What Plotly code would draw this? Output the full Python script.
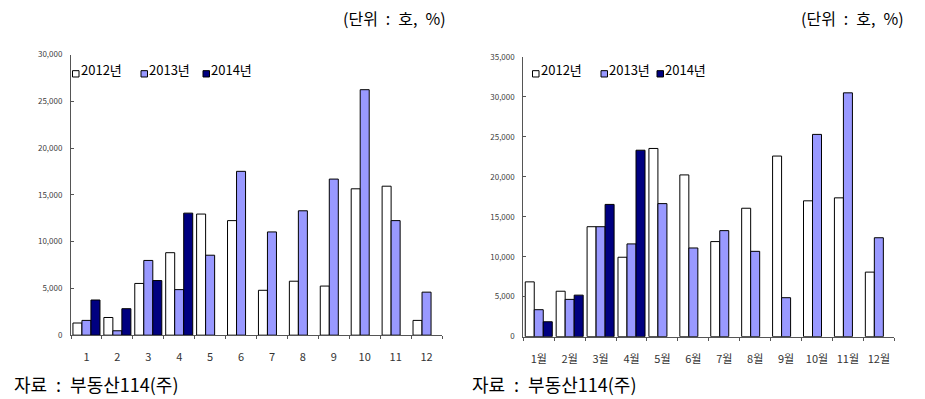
import plotly.graph_objects as go

W, H = 925, 399

# Category labels
months_num = ["1", "2", "3", "4", "5", "6", "7", "8", "9", "10", "11", "12"]
months_kor = ["1월", "2월", "3월", "4월", "5월", "6월", "7월", "8월", "9월", "10월", "11월", "12월"]

# Left panel (호)
left_2012 = [1300, 1890, 5530, 8820, 12950, 12250, 4800, 5770, 5250, 15650, 15930, 1580]
left_2013 = [1580, 470, 7990, 4870, 8550, 17520, 11040, 13300, 16690, 26250, 12250, 4600]
left_2014 = [3760, 2830, 5840, 13050, None, None, None, None, None, None, None, None]

# Right panel (호)
right_2012 = [6850, 5680, 13750, 9930, 23540, 20230, 11890, 16060, 22590, 16990, 17360, 8070]
right_2013 = [3370, 4660, 13750, 11600, 16640, 11090, 13260, 10670, 4870, 25300, 30500, 12370]
right_2014 = [1860, 5190, 16540, 23320, None, None, None, None, None, None, None, None]

series_names = ["2012년", "2013년", "2014년"]
series_colors = ["#FFFFFF", "#9999FF", "#000080"]

FONT = "Noto Sans CJK KR"
SP = "\u2002"  # en space, keeps the wide gaps in the notes

fig = go.Figure()

for name, color, vals in zip(series_names, series_colors, [left_2012, left_2013, left_2014]):
    fig.add_trace(go.Bar(
        x=months_num, y=vals, name=name, xaxis="x", yaxis="y", showlegend=False,
        marker=dict(color=color, line=dict(color="#000000", width=1)),
    ))

for name, color, vals in zip(series_names, series_colors, [right_2012, right_2013, right_2014]):
    fig.add_trace(go.Bar(
        x=months_kor, y=vals, name=name, xaxis="x2", yaxis="y2", showlegend=False,
        marker=dict(color=color, line=dict(color="#000000", width=1)),
    ))


def px_x(p):
    return p / W


def px_y(p):
    return 1 - p / H


axis_line = "#555555"
tick_font = dict(family=FONT, size=8, color="#404040")
cat_font = dict(family=FONT, size=11, color="#333333")

common_x = dict(
    type="category", showline=True, linecolor=axis_line, linewidth=1,
    ticks="outside", tickson="boundaries", ticklen=3, tickcolor=axis_line,
    showgrid=False, zeroline=False, tickfont=cat_font, ticklabelstandoff=12,
    tickangle=0,
)
common_y = dict(
    showline=True, linecolor=axis_line, linewidth=1,
    ticks="inside", ticklen=3, tickcolor=axis_line,
    showgrid=False, zeroline=False, tickformat=",d", dtick=5000,
    tickfont=tick_font, ticklabelstandoff=6,
)

fig.update_layout(
    width=W, height=H,
    margin=dict(l=0, r=0, t=0, b=0),
    paper_bgcolor="white", plot_bgcolor="white",
    barmode="group", bargap=0.126, bargroupgap=0,
    font=dict(family=FONT, color="#000000"),
    xaxis=dict(domain=[px_x(71), px_x(442)], anchor="y", **common_x),
    yaxis=dict(domain=[px_y(338.5), px_y(50)], anchor="x", range=[0, 30000], **common_y),
    xaxis2=dict(domain=[px_x(523.3), px_x(894.3)], anchor="y2", **common_x),
    yaxis2=dict(domain=[px_y(340), px_y(52.3)], anchor="x2", range=[0, 35000], **common_y),
)

shapes = []
annotations = []

# Legend keys and labels for each panel
legend_keys = [
    [72.5, 141.0, 203.0],
    [532.5, 601.0, 657.0],
]
for keys in legend_keys:
    for x0, name, color in zip(keys, series_names, series_colors):
        shapes.append(dict(
            type="rect", xref="paper", yref="paper",
            x0=px_x(x0), x1=px_x(x0 + 6.5), y0=px_y(73), y1=px_y(66.5),
            fillcolor=color, line=dict(color="#000000", width=1),
        ))
        annotations.append(dict(
            text=name, xref="paper", yref="paper", x=px_x(x0 + 6), y=px_y(65),
            xanchor="left", yanchor="middle", showarrow=False,
            font=dict(family=FONT, size=13, color="#000000"),
        ))

# Unit notes and source lines
unit_note = "(단위" + SP + ":" + SP + "호," + SP + "%)"
source_note = "자료" + SP + ":" + SP + "부동산114(주)"
for right_edge in [448, 906]:
    annotations.append(dict(
        text=unit_note, xref="paper", yref="paper", x=px_x(right_edge), y=px_y(12),
        xanchor="right", yanchor="middle", showarrow=False,
        font=dict(family=FONT, size=16, color="#000000"),
    ))
for left_edge in [13, 471]:
    annotations.append(dict(
        text=source_note, xref="paper", yref="paper", x=px_x(left_edge), y=0,
        xanchor="left", yanchor="bottom", showarrow=False, borderpad=0, yshift=-4,
        font=dict(family=FONT, size=18, color="#000000"),
    ))

fig.update_layout(shapes=shapes, annotations=annotations)

fig.write_html("out.html")
